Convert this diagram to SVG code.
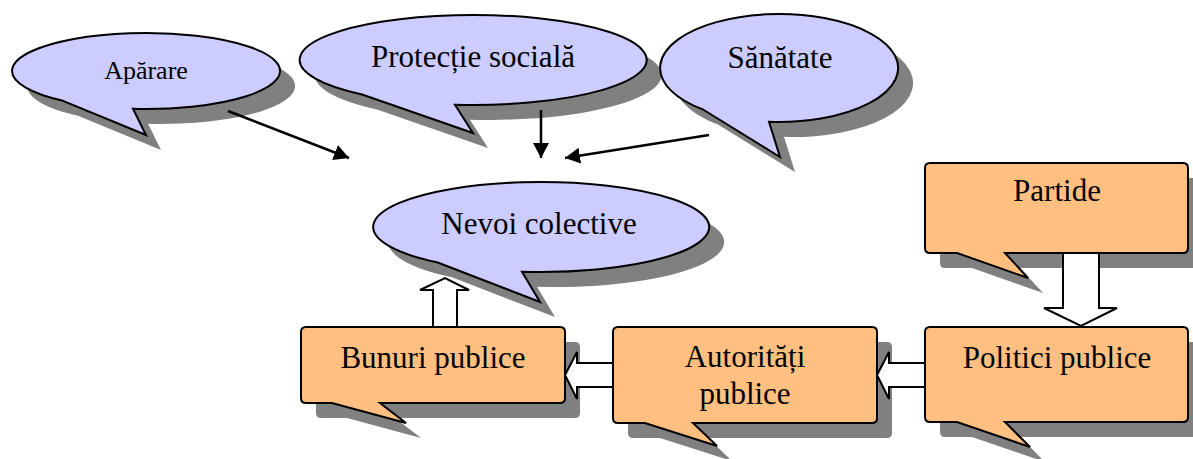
<svg xmlns="http://www.w3.org/2000/svg" xmlns:xlink="http://www.w3.org/1999/xlink" width="1193" height="459" viewBox="0 0 1193 459">
  <style>
    .shadow { fill: #808080; stroke: none; }
    .bubble { fill: #CCCCFF; stroke: #000; stroke-width: 2; stroke-linejoin: miter; }
    .box { fill: #FFBF80; stroke: #000; stroke-width: 2; }
    .label { font-family: "Liberation Serif", "Times New Roman", serif; font-size: 31px; fill: #000; text-anchor: middle; }
    .small { font-size: 26px; }
    .link { stroke: #000; stroke-width: 2.5; fill: none; marker-end: url(#head); }
    .block { fill: #fff; stroke: #000; stroke-width: 2; stroke-linejoin: miter; }
  </style>
  <defs>
    <marker id="head" markerUnits="userSpaceOnUse" markerWidth="17" markerHeight="18" refX="15" refY="8" orient="auto">
      <path d="M0,0 L15,8 L0,16 Z" fill="#000"/>
    </marker>
    <!-- callout outlines: ellipses with a wedge tail -->
    <path id="s-aparare" d="M63,100.8 L146,135 L133,108.8 A134,38 0 1 0 63,100.8 Z"/>
    <path id="s-protectie" d="M362,94.5 L473,133 L455,104.7 A173.5,45 0 1 0 362,94.5 Z"/>
    <path id="s-sanatate" d="M703,109.5 L780,157 L769,121.8 A119,54 0 1 0 703,109.5 Z"/>
    <path id="s-nevoi" d="M437,262.3 L540,302 L522,271.7 A168,45 0 1 0 437,262.3 Z"/>
    <!-- callout outlines: rounded rectangles with a wedge tail -->
    <path id="s-partide" d="M930,163 H1183 Q1188,163 1188,168 V248 Q1188,253 1183,253 H1005 L1028,278 L957,253 H930 Q925,253 925,248 V168 Q925,163 930,163 Z"/>
    <path id="s-politici" d="M930,327 H1183 Q1188,327 1188,332 V417 Q1188,422 1183,422 H1005 L1030,447 L957,422 H930 Q925,422 925,417 V332 Q925,327 930,327 Z"/>
    <path id="s-autoritati" d="M618,327 H872 Q877,327 877,332 V418 Q877,423 872,423 H693 L717,446 L645,423 H618 Q613,423 613,418 V332 Q613,327 618,327 Z"/>
    <path id="s-bunuri" d="M306,327 H560 Q565,327 565,332 V398 Q565,403 560,403 H380 L406,423 L332,403 H306 Q301,403 301,398 V332 Q301,327 306,327 Z"/>
  </defs>

  <g id="aparare">
    <use xlink:href="#s-aparare" class="shadow" transform="translate(15,15)"/>
    <use xlink:href="#s-aparare" class="bubble"/>
    <text class="label small" x="146" y="79">Apărare</text>
  </g>

  <g id="protectie-sociala">
    <use xlink:href="#s-protectie" class="shadow" transform="translate(15,15)"/>
    <use xlink:href="#s-protectie" class="bubble"/>
    <text class="label" x="473" y="67">Protecție socială</text>
  </g>

  <g id="sanatate">
    <use xlink:href="#s-sanatate" class="shadow" transform="translate(15,15)"/>
    <use xlink:href="#s-sanatate" class="bubble"/>
    <text class="label" x="780" y="68">Sănătate</text>
  </g>

  <g id="nevoi-colective">
    <use xlink:href="#s-nevoi" class="shadow" transform="translate(15,15)"/>
    <use xlink:href="#s-nevoi" class="bubble"/>
    <text class="label" x="539" y="234">Nevoi colective</text>
  </g>

  <g id="partide">
    <use xlink:href="#s-partide" class="shadow" transform="translate(15,15)"/>
    <use xlink:href="#s-partide" class="box"/>
    <text class="label" x="1057" y="201">Partide</text>
  </g>

  <g id="politici-publice">
    <use xlink:href="#s-politici" class="shadow" transform="translate(15,15)"/>
    <use xlink:href="#s-politici" class="box"/>
    <text class="label" x="1057" y="368">Politici publice</text>
  </g>

  <g id="autoritati-publice">
    <use xlink:href="#s-autoritati" class="shadow" transform="translate(15,15)"/>
    <use xlink:href="#s-autoritati" class="box"/>
    <text class="label" x="745" y="367">Autorități</text>
    <text class="label" x="745" y="404">publice</text>
  </g>

  <g id="bunuri-publice">
    <use xlink:href="#s-bunuri" class="shadow" transform="translate(15,15)"/>
    <use xlink:href="#s-bunuri" class="box"/>
    <text class="label" x="433" y="368">Bunuri publice</text>
  </g>

  <g id="connectors">
    <!-- thin arrows into the collective needs bubble -->
    <line class="link" x1="228" y1="111" x2="349" y2="158"/>
    <line class="link" x1="541" y1="110" x2="541" y2="158"/>
    <line class="link" x1="709" y1="135" x2="565" y2="158"/>
    <!-- hollow block arrows along the chain -->
    <path class="block" d="M1063,254 V308 H1044 L1081,326 L1117,308 H1099 V254"/>
    <path class="block" d="M924,363 H889 V352 L877,375 L889,399 V387 H924"/>
    <path class="block" d="M612,363 H577 V352 L565,375 L577,399 V387 H612"/>
    <path class="block" d="M433,326 V290 H420 L445,278 L469,290 H457 V326"/>
  </g>
</svg>
